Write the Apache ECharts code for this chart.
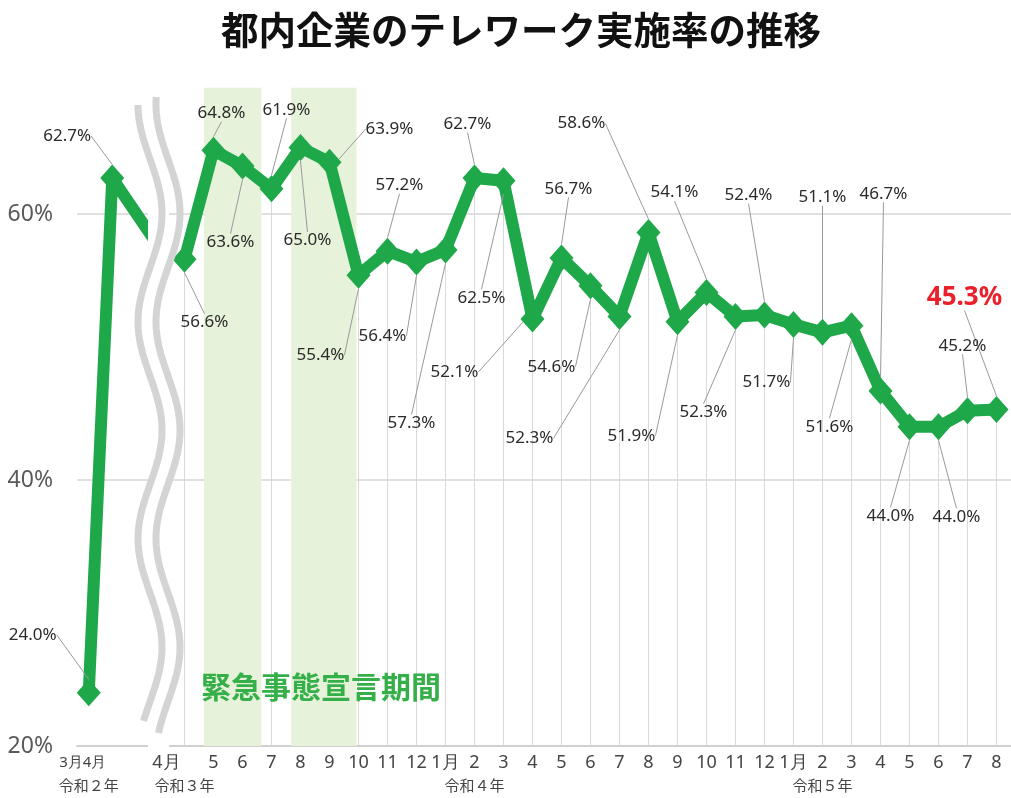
<!DOCTYPE html>
<html>
<head>
<meta charset="utf-8">
<title>都内企業のテレワーク実施率の推移</title>
<script src="https://cdn.jsdelivr.net/npm/echarts@6/dist/echarts.min.js"></script>
<style>
  html, body { margin: 0; padding: 0; background: #fff; }
  #main { width: 1011px; height: 798px; }
</style>
</head>
<body>
<div id="main"></div>
<script>
// 令和2年 (left part, before the axis break); last value is the cut-off stub
var months2020 = ['3月', '4月', '', ''];
var rate2020 = [24.0, 62.7, null, 57.5];
var years2020 = ['令和２年', '', '', ''];

// 令和3年4月 - 令和5年8月
var months = ['4月', '5', '6', '7', '8', '9', '10', '11', '12',
  '1月', '2', '3', '4', '5', '6', '7', '8', '9', '10', '11', '12',
  '1月', '2', '3', '4', '5', '6', '7', '8'];
var rates = [56.6, 64.8, 63.6, 61.9, 65.0, 63.9, 55.4, 57.2, 56.4,
  57.3, 62.7, 62.5, 52.1, 56.7, 54.6, 52.3, 58.6, 51.9, 54.1, 52.3, 52.4,
  51.7, 51.1, 51.6, 46.7, 44.0, 44.0, 45.2, 45.3];
var yearIndex = [0, 10, 22];
var yearNames = ['令和３年', '令和４年', '令和５年'];

// 緊急事態宣言期間 (in month index of the right part)
var emergencyFrom = [0.67, 3.68];
var emergencyTo = [2.65, 5.93];

var yMin = 20, yMax = 70, yStep = 20;

// label offsets from the point (px)
var offsets2020 = [[-56, -58], [-45, -42]];
var offsets = [
  [20, 63], [8, -37], [-12, 76], [15, -79], [7, 93], [60, -33], [-38, 80], [12, -66], [-34, 74],
  [-34, 173], [-7, -54], [-22, 117], [-78, 53], [7, -69], [-39, 81], [-90, 122], [-67, -109],
  [-46, 114], [-32, -100], [-32, 96], [-16, -120],
  [-27, 58], [0, -135], [-22, 101], [3, -197], [-19, 89], [18, 90], [-5, -65], [-32, -112]
];

var GREEN = '#1fa84a';
var NUMFONT = "'Noto Sans', sans-serif";
var JPFONT = "'Noto Sans CJK JP', sans-serif";

var yearLabels = months.map(function (m, i) {
  var k = yearIndex.indexOf(i);
  return k >= 0 ? yearNames[k] : '';
});
var monthItems = months.map(function (m, i) {
  return i === 0 ? { value: m, textStyle: { align: 'right', padding: [0, 4, 0, 0] } } : m;
});

function layoutBy(offs) {
  return function (p) {
    var o = offs[p.dataIndex];
    if (!o) return {};
    return {
      x: p.rect.x + p.rect.width / 2 + o[0],
      y: p.rect.y + p.rect.height / 2 + o[1],
      align: 'center',
      verticalAlign: 'middle'
    };
  };
}

var lineLabel = {
  show: true,
  formatter: function (p) { return p.value.toFixed(1) + '%'; },
  color: '#2b2b2b',
  fontSize: 17,
  fontFamily: NUMFONT
};
var leader = { show: true, lineStyle: { color: '#9a9a9a', width: 1 } };

var data2020 = rate2020.map(function (v, i) {
  if (i >= offsets2020.length) return { value: v, symbol: 'none', label: { show: false } };
  return v;
});
var dataMain = rates.map(function (v, i) {
  if (i === rates.length - 1) {
    return { value: v, label: { color: '#e8212a', fontSize: 26, fontWeight: 'bold' } };
  }
  return v;
});

var areas = emergencyFrom.map(function (f, i) {
  return [{ xAxis: f, yAxis: yMin }, { xAxis: emergencyTo[i], yAxis: 69.5 }];
});

var yAxisBase = {
  type: 'value',
  min: yMin,
  max: yMax,
  interval: yStep,
  axisLine: { show: false },
  axisTick: { show: false },
  splitLine: { show: true, showMaxLine: false, lineStyle: { color: '#d6d6d6', width: 1.5 } }
};

// wavy break mark (decoration)
function wave(dx, y0, y1) {
  var pts = [];
  for (var y = y0; y <= y1; y += 4) {
    pts.push([150 + dx + 12 * Math.sin(2 * Math.PI * (y - 159) / 217), y]);
  }
  return pts;
}

var chart = echarts.init(document.getElementById('main'));
chart.setOption({
  animation: false,
  backgroundColor: '#fff',
  title: {
    text: '都内企業のテレワーク実施率の推移',
    left: 216,
    top: 6,
    textStyle: { fontSize: 37.5, fontWeight: 'bold', color: '#111', fontFamily: JPFONT }
  },
  grid: [
    { left: 77, top: 81, width: 94, bottom: 52 },
    { left: 170, top: 81, width: 847, bottom: 52 }
  ],
  xAxis: [
    {
      type: 'category', gridIndex: 0, data: months2020,
      axisLine: { lineStyle: { color: '#d0d0d0', width: 2 } },
      axisTick: { show: false },
      axisLabel: { interval: 0, align: 'right', padding: [0, 6, 0, 0], margin: 9,
        color: '#444', fontSize: 15, fontFamily: NUMFONT }
    },
    {
      type: 'category', gridIndex: 1, data: monthItems,
      axisLine: { lineStyle: { color: '#d0d0d0', width: 2 } },
      axisTick: { show: false },
      axisLabel: { interval: 0, margin: 8, color: '#444', fontSize: 18, fontFamily: NUMFONT }
    },
    {
      type: 'category', gridIndex: 0, data: years2020, position: 'bottom', offset: 24,
      axisLine: { show: false }, axisTick: { show: false },
      axisLabel: { interval: 0, margin: 8, color: '#444', fontSize: 15, fontFamily: JPFONT }
    },
    {
      type: 'category', gridIndex: 1, data: yearLabels, position: 'bottom', offset: 24,
      axisLine: { show: false }, axisTick: { show: false },
      axisLabel: { interval: 0, margin: 8, color: '#444', fontSize: 15, fontFamily: JPFONT }
    },
    {
      // hidden linear axis over the month positions, for the shaded periods
      type: 'value', gridIndex: 1, min: -0.5, max: months.length - 0.5, show: false
    }
  ],
  yAxis: [
    Object.assign({}, yAxisBase, {
      gridIndex: 0,
      axisLabel: { formatter: '{value}%', showMaxLabel: false, margin: 24,
        color: '#5a5a5a', fontSize: 23, fontFamily: NUMFONT }
    }),
    Object.assign({}, yAxisBase, { gridIndex: 1, axisLabel: { show: false } })
  ],
  series: [
    {
      type: 'line',
      xAxisIndex: 4, yAxisIndex: 1,
      data: [],
      silent: true,
      z: -2,
      markArea: {
        silent: true,
        itemStyle: { color: '#e6f2d9' },
        data: areas
      }
    },
    {
      type: 'bar',
      xAxisIndex: 1, yAxisIndex: 1,
      data: rates,
      barWidth: 1,
      itemStyle: { color: '#dadada' },
      silent: true,
      z: -1
    },
    {
      type: 'line',
      xAxisIndex: 0, yAxisIndex: 0,
      data: data2020,
      connectNulls: true,
      symbol: 'diamond',
      symbolSize: [24, 27],
      lineStyle: { color: GREEN, width: 12 },
      itemStyle: { color: GREEN },
      label: lineLabel,
      labelLine: leader,
      labelLayout: layoutBy(offsets2020),
      z: 3
    },
    {
      type: 'line',
      xAxisIndex: 1, yAxisIndex: 1,
      data: dataMain,
      symbol: 'diamond',
      symbolSize: [24, 27],
      lineStyle: { color: GREEN, width: 12 },
      itemStyle: { color: GREEN },
      label: lineLabel,
      labelLine: leader,
      labelLayout: layoutBy(offsets),
      z: 3
    }
  ],
  graphic: [
    // gap of the broken axis
    { type: 'rect', z: 50, silent: true,
      shape: { x: 148, y: 78, width: 21, height: 672 },
      style: { fill: '#fff' } },
    { type: 'polyline', z: 51, silent: true,
      shape: { points: wave(0, 105, 724) },
      style: { stroke: '#d4d4d4', lineWidth: 7, fill: null } },
    { type: 'polyline', z: 51, silent: true,
      shape: { points: wave(18, 97, 736) },
      style: { stroke: '#d4d4d4', lineWidth: 7, fill: null } },
    { type: 'text', z: 60, silent: true, left: 201, top: 672,
      style: { text: '緊急事態宣言期間', fill: '#35b049', fontSize: 30, fontWeight: 'bold', fontFamily: JPFONT } }
  ]
});
</script>
</body>
</html>
